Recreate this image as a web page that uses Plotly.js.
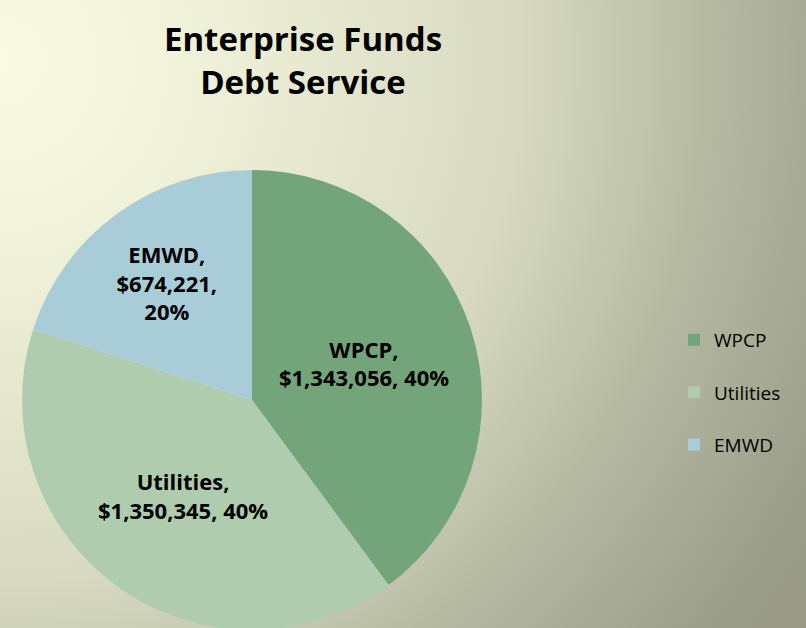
<!DOCTYPE html>
<html>
<head>
<meta charset="utf-8">
<script src="https://cdn.plot.ly/plotly-3.0.1.min.js"></script>
<style>
  html, body { margin: 0; padding: 0; width: 806px; height: 628px; overflow: hidden; }
  body {
    background: radial-gradient(circle at 0% 10%, #FAFBE3 0px, #F0F2D9 180px, #D7DAC1 520px, #B4B8A1 720px, #9C9F8B 900px, #979985 1000px);
  }
  #chart { width: 806px; height: 660px; }
</style>
</head>
<body>
<div id="chart"></div>
<script>
// Data
const categories = ["WPCP", "Utilities", "EMWD"];
const values = [1343056, 1350345, 674221];
const sliceColors = ["#74A57A", "#AFCCAF", "#A9CDD8"];
const labelTemplates = [
  "%{text},<br>%{value:$,.0f}, %{percent:.0%}",
  "%{text},<br>%{value:$,.0f}, %{percent:.0%}",
  "%{text},<br>%{value:$,.0f},<br>%{percent:.0%}"
];

const nb = "\u00a0";
const legendLabels = categories.map(c => c + "<br>" + nb);

const W = 806, H = 660;
const trace = {
  type: "pie",
  labels: legendLabels,
  text: categories,
  values: values,
  sort: false,
  direction: "clockwise",
  rotation: 0,
  marker: { colors: sliceColors, line: { width: 0 } },
  texttemplate: labelTemplates,
  textposition: "inside",
  insidetextorientation: "horizontal",
  textfont: { family: "Open Sans, sans-serif", size: 22, color: "#000000", weight: "bold" },
  hovertemplate: "%{text}: %{value:$,.0f} (%{percent})<extra></extra>",
  domain: { x: [22 / W, 482 / W], y: [1 - 630 / H, 1 - 170 / H] },
  showlegend: true
};

const layout = {
  width: W,
  height: H,
  margin: { l: 0, r: 0, t: 0, b: 0 },
  paper_bgcolor: "rgba(0,0,0,0)",
  plot_bgcolor: "rgba(0,0,0,0)",
  uniformtext: { mode: "show", minsize: 22 },
  title: {
    text: "<b>Enterprise Funds<br>Debt Service</b>",
    font: { family: "Open Sans, sans-serif", size: 33, color: "#000000" },
    x: 303 / W,
    xanchor: "center",
    y: 1 - 51 / H,
    yanchor: "top",
    xref: "paper",
    yref: "paper"
  },
  legend: {
    x: 674 / W,
    xanchor: "left",
    y: 1 - 405 / H,
    yanchor: "middle",
    valign: "top",
    font: { family: "Open Sans, sans-serif", size: 19, color: "#000000" },
    bgcolor: "rgba(0,0,0,0)",
    itemclick: false
  },
  showlegend: true
};

Plotly.newPlot("chart", [trace], layout, { displayModeBar: false });
</script>
</body>
</html>
